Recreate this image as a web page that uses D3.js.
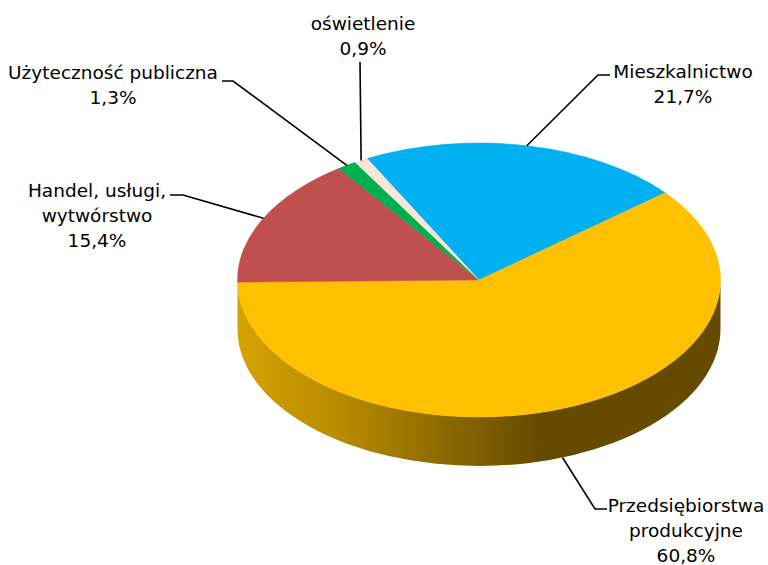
<!DOCTYPE html>
<html>
<head>
<meta charset="utf-8">
<script src="https://cdn.jsdelivr.net/npm/d3@7"></script>
<style>
  html, body { margin: 0; padding: 0; background: #fff; }
  svg { display: block; }
  text { font-family: "DejaVu Sans", Verdana, sans-serif; font-size: 18.5px; fill: #000; }
</style>
</head>
<body>
<svg id="chart" width="768" height="565"></svg>
<script>
// ---- data ----
const categories = ["Mieszkalnictwo", "Przedsiębiorstwa produkcyjne", "Handel, usługi, wytwórstwo", "Użyteczność publiczna", "oświetlenie"];
const values = [21.7, 60.8, 15.4, 1.3, 0.9];
const valueLabels = ["21,7%", "60,8%", "15,4%", "1,3%", "0,9%"];
const labelLines = [["Mieszkalnictwo"], ["Przedsiębiorstwa", "produkcyjne"], ["Handel, usługi,", "wytwórstwo"], ["Użyteczność publiczna"], ["oświetlenie"]];
const colors = ["#00B0F0", "#FFC000", "#C0504D", "#00B050", "#FBE5D6"];
const sideColors = ["#0085B5", "url(#sideGrad)", "#903C3A", "#00843C", "#BCACA0"];

// ---- layout ----
const W = 768, H = 565;
const cx = 479, cy = 280, rx = 241.5, ry = 137, depth = 49;
const startDeg = -27.6;
const lineH = 25;
// label layout: text center x, first baseline y, leader elbow + end
const labelLayout = [
  { tx: 683, ty: 78, pts: [[598, 75], [610, 75]] },
  { tx: 686, ty: 512, pts: [[595, 509], [607, 509]], front: true },
  { tx: 97, ty: 197, pts: [[183, 195], [170, 195]] },
  { tx: 113, ty: 79, pts: [[233, 81], [222, 81]] },
  { tx: 363, ty: 30, pts: [[360, 62]] }
];

const svg = d3.select("#chart");
const defs = svg.append("defs");
const grad = defs.append("linearGradient").attr("id", "sideGrad")
  .attr("gradientUnits", "userSpaceOnUse")
  .attr("x1", cx - rx).attr("x2", 540).attr("y1", 0).attr("y2", 0);
grad.append("stop").attr("offset", 0).attr("stop-color", "#D6A300");
grad.append("stop").attr("offset", 0.35).attr("stop-color", "#B68A00");
grad.append("stop").attr("offset", 1).attr("stop-color", "#654B00");

const pie = d3.pie().sort(null).value(d => d)
  .startAngle(startDeg * Math.PI / 180)
  .endAngle(startDeg * Math.PI / 180 + 2 * Math.PI);
const arcs = pie(values);

const pt = (a, dy = 0) => [cx + rx * Math.sin(a), cy - ry * Math.cos(a) + dy];

function topPath(d) {
  const p0 = pt(d.startAngle), p1 = pt(d.endAngle);
  const large = (d.endAngle - d.startAngle) > Math.PI ? 1 : 0;
  return `M${cx},${cy}L${p0[0]},${p0[1]}A${rx},${ry} 0 ${large} 1 ${p1[0]},${p1[1]}Z`;
}
function sidePath(d) {
  // visible outer wall only in front half (angle between PI/2 and 3PI/2, mod 2PI)
  const segs = [];
  for (let k = -1; k <= 1; k++) {
    const lo = Math.PI / 2 + k * 2 * Math.PI, hi = 3 * Math.PI / 2 + k * 2 * Math.PI;
    const a0 = Math.max(d.startAngle, lo), a1 = Math.min(d.endAngle, hi);
    if (a1 > a0) segs.push([a0, a1]);
  }
  return segs.map(([a0, a1]) => {
    const p0 = pt(a0), p1 = pt(a1), q1 = pt(a1, depth), q0 = pt(a0, depth);
    const large = (a1 - a0) > Math.PI ? 1 : 0;
    return `M${p0[0]},${p0[1]}A${rx},${ry} 0 ${large} 1 ${p1[0]},${p1[1]}L${q1[0]},${q1[1]}A${rx},${ry} 0 ${large} 0 ${q0[0]},${q0[1]}Z`;
  }).join("");
}

svg.append("g").selectAll("path").data(arcs).join("path")
  .attr("d", sidePath)
  .attr("fill", (d, i) => sideColors[i]);

svg.append("g").selectAll("path").data(arcs).join("path")
  .attr("d", topPath)
  .attr("fill", (d, i) => colors[i])
  .attr("stroke", (d, i) => colors[i]).attr("stroke-width", 0.5);

// leader lines
const lg = svg.append("g");
arcs.forEach((d, i) => {
  const mid = (d.startAngle + d.endAngle) / 2;
  const c = Math.cos(mid);
  const start = pt(mid, c < 0 ? depth : 0);
  const pts = [start].concat(labelLayout[i].pts);
  lg.append("path")
    .attr("d", d3.line()(pts))
    .attr("fill", "none").attr("stroke", "#000").attr("stroke-width", 1.6);
});

// labels
const tg = svg.append("g");
arcs.forEach((d, i) => {
  const L = labelLayout[i];
  const lines = labelLines[i].concat([valueLabels[i]]);
  const t = tg.append("text").attr("text-anchor", "middle");
  lines.forEach((s, j) => {
    t.append("tspan").attr("x", L.tx).attr("y", L.ty + j * lineH).text(s);
  });
});
</script>
</body>
</html>
